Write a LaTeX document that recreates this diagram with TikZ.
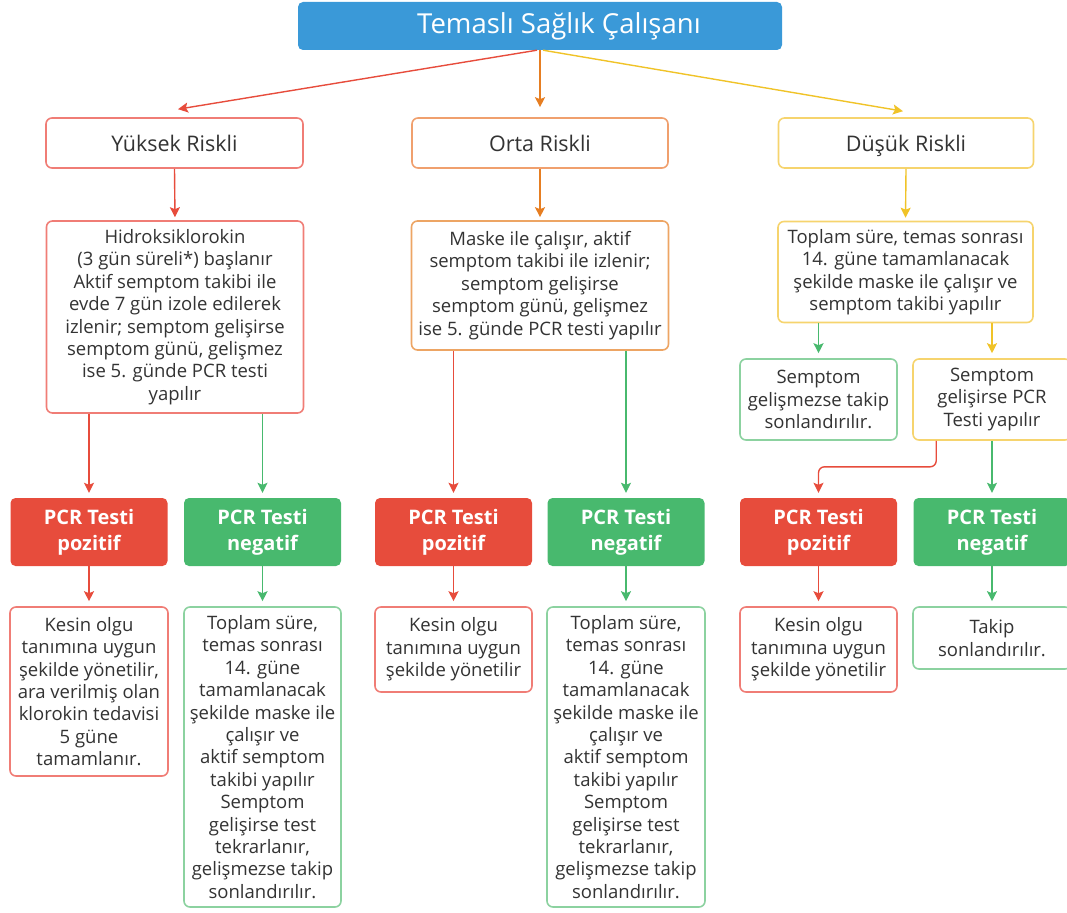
\documentclass[tikz,border=0pt]{standalone}
\usepackage{fontspec}
\setmainfont{Open Sans}
\usetikzlibrary{arrows.meta,calc}
\definecolor{tblue}{RGB}{58,153,216}
\definecolor{tred}{RGB}{231,76,60}
\definecolor{tgreen}{RGB}{72,185,110}
\definecolor{torange}{RGB}{230,126,34}
\definecolor{tyellow}{RGB}{240,195,40}
\definecolor{lred}{RGB}{240,125,118}
\definecolor{lorange}{RGB}{240,160,110}
\definecolor{lyellow}{RGB}{246,212,110}
\definecolor{lgreen}{RGB}{140,210,160}
\definecolor{ttext}{RGB}{51,51,51}
\tikzset{
  bx/.style={draw=#1, line width=1.6pt, rounded corners=6pt, fill=white, inner sep=0pt,
    align=center, text=ttext, font=\fontsize{18.5}{22.4}\selectfont},
  riskbox/.style={bx=#1, font=\fontsize{21.5}{26}\selectfont, text height=20pt, text depth=2pt},
  pcrbox/.style={fill=#1, rounded corners=5pt, inner sep=0pt, align=center, text=white,
    font=\bfseries\fontsize{20}{26}\selectfont, minimum width=157pt, minimum height=68pt},
  arr/.style={draw=#1, line width=1.4pt, -{Stealth[length=10pt,width=10pt,inset=2pt]}, shorten >=5pt},
}
\begin{document}
\begin{tikzpicture}[x=1pt,y=-1pt]
\useasboundingbox (0,0) rectangle (1067,912);
% title
\node[fill=tblue, rounded corners=5pt, minimum width=484pt, minimum height=48pt, text=white,
  font=\fontsize{27.5}{32}\selectfont] (title) at (540,26) {\hspace*{38pt}Temaslı Sağlık Çalışanı};
% level 1
\node[riskbox=lred, minimum width=257pt, minimum height=50pt] (yuk) at (174.5,143) {Yüksek Riskli};
\node[riskbox=lorange, minimum width=256pt, minimum height=50pt] (orta) at (540,143) {Orta Riskli};
\node[riskbox=lyellow, minimum width=255pt, minimum height=50pt] (dus) at (906,143) {Düşük Riskli};
% level 2
\node[bx=lred, minimum width=257pt, minimum height=192pt] (hid) at (175,317)
 {Hidroksiklorokin\\(3 gün süreli*) başlanır\\Aktif semptom takibi ile\\evde 7 gün izole edilerek\\izlenir; semptom gelişirse\\semptom günü, gelişmez\\ise 5. günde PCR testi\\yapılır};
\node[bx=torange!70!white, minimum width=257pt, minimum height=129pt] (mask) at (540,285.5)
 {Maske ile çalışır, aktif\\semptom takibi ile izlenir;\\semptom gelişirse\\semptom günü, gelişmez\\ise 5. günde PCR testi yapılır};
\node[bx=lyellow, minimum width=255pt, minimum height=101pt] (top) at (905.5,272)
 {Toplam süre, temas sonrası\\14. güne tamamlanacak\\şekilde maske ile çalışır ve\\semptom takibi yapılır};
\node[bx=lgreen, minimum width=157pt, minimum height=81pt] (sgm) at (818.5,399.5)
 {Semptom\\gelişmezse takip\\sonlandırılır.};
\node[bx=lyellow, minimum width=158pt, minimum height=81pt] (sgr) at (992,399.5)
 {Semptom\\gelişirse PCR\\Testi yapılır};
% PCR boxes
\node[pcrbox=tred] (pos1) at (89,532) {PCR Testi\\pozitif};
\node[pcrbox=tgreen] (neg1) at (262.5,532) {PCR Testi\\negatif};
\node[pcrbox=tred] (pos2) at (453.5,532) {PCR Testi\\pozitif};
\node[pcrbox=tgreen] (neg2) at (626,532) {PCR Testi\\negatif};
\node[pcrbox=tred] (pos3) at (818.5,532) {PCR Testi\\pozitif};
\node[pcrbox=tgreen] (neg3) at (992,532) {PCR Testi\\negatif};
% results
\node[bx=lred, minimum width=158pt, minimum height=169pt] (k1) at (89,691.5)
 {Kesin olgu\\tanımına uygun\\şekilde yönetilir,\\ara verilmiş olan\\klorokin tedavisi\\5 güne\\tamamlanır.};
\node[bx=lgreen, minimum width=157pt, minimum height=300pt] (t1) at (262.5,757)
 {Toplam süre,\\temas sonrası\\14. güne\\tamamlanacak\\şekilde maske ile\\çalışır ve\\aktif semptom\\takibi yapılır\\Semptom\\gelişirse test\\tekrarlanır,\\gelişmezse takip\\sonlandırılır.};
\node[bx=lred, minimum width=157pt, minimum height=85pt] (k2) at (453.5,649.5)
 {Kesin olgu\\tanımına uygun\\şekilde yönetilir};
\node[bx=lgreen, minimum width=158pt, minimum height=300pt] (t2) at (626,757)
 {Toplam süre,\\temas sonrası\\14. güne\\tamamlanacak\\şekilde maske ile\\çalışır ve\\aktif semptom\\takibi yapılır\\Semptom\\gelişirse test\\tekrarlanır,\\gelişmezse takip\\sonlandırılır.};
\node[bx=lred, minimum width=157pt, minimum height=85pt] (k3) at (818.5,649.5)
 {Kesin olgu\\tanımına uygun\\şekilde yönetilir};
\node[bx=lgreen, minimum width=158pt, minimum height=62pt] (tk) at (992,638)
 {Takip\\sonlandırılır.};
% arrows from title
\coordinate (yukT) at ($(yuk.north)+(3.5,-8)$);
\coordinate (ortaT) at ($(orta.north)+(0,-10)$);
\coordinate (dusT) at ($(dus.north)+(-3,-6)$);
\draw[arr=tred, shorten >=0pt] ($(title.south)+(-3,0)$) -- (yukT);
\draw[arr=torange, shorten >=0pt] (title.south) -- (ortaT);
\draw[arr=tyellow, shorten >=0pt] ($(title.south)+(3,0)$) -- (dusT);
% level 1 -> 2
\draw[arr=tred, shorten >=3pt] (yuk.south) -- (hid.north);
\draw[arr=torange, shorten >=3pt] (orta.south) -- (mask.north);
\draw[arr=tyellow, shorten >=3pt] (dus.south) -- (top.north);
% level 2 -> PCR
\draw[arr=tred] (pos1 |- hid.south) -- (pos1.north);
\draw[arr=tgreen] (neg1 |- hid.south) -- (neg1.north);
\draw[arr=tred] (pos2 |- mask.south) -- (pos2.north);
\draw[arr=tgreen] (neg2 |- mask.south) -- (neg2.north);
\draw[arr=tgreen] (sgm |- top.south) -- (sgm.north);
\draw[arr=tyellow] (sgr |- top.south) -- (sgr.north);
\coordinate (e1) at ($(sgr.south west)+(24,0)$);
\draw[arr=tred, rounded corners=6pt] (e1) |- ($(pos3.north)+(0,-31)$) -- (pos3.north);
\draw[arr=tgreen] (sgr.south) -- (neg3.north);
% PCR -> results
\draw[arr=tred] (pos1.south) -- (k1.north);
\draw[arr=tgreen] (neg1.south) -- (t1.north);
\draw[arr=tred] (pos2.south) -- (k2.north);
\draw[arr=tgreen] (neg2.south) -- (t2.north);
\draw[arr=tred] (pos3.south) -- (k3.north);
\draw[arr=tgreen] (neg3.south) -- (tk.north);
\end{tikzpicture}
\end{document}
